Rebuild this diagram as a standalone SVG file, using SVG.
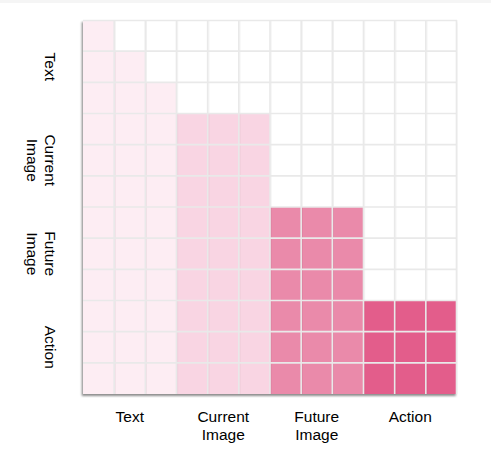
<svg xmlns="http://www.w3.org/2000/svg" width="491" height="449" viewBox="0 0 491 449">
  <defs>
    <filter id="sh" x="-10%" y="-10%" width="120%" height="120%">
      <feDropShadow dx="-1.2" dy="2" stdDeviation="1.2" flood-color="#000" flood-opacity="0.45"/>
    </filter>
  </defs>
  <style>
    .lbl { font-family: "Liberation Sans", Arial, sans-serif; font-size: 15.5px; fill: #000; }
    .t { fill: #fdedf3; }
    .c { fill: #f9d5e3; }
    .f { fill: #ea8aaa; }
    .a { fill: #e35d8b; }
    .grid line { stroke: #e9e9e9; stroke-width: 1.6; }
    .gsh line { stroke: #000; stroke-opacity: 0.05; stroke-width: 1; }
  </style>
  <rect x="0" y="0" width="491" height="449" fill="#ffffff"/>
  <rect x="0" y="0" width="491" height="3" fill="#f5f5f5"/>

  <rect x="83" y="20" width="374" height="374" fill="#ffffff" filter="url(#sh)"/>

  <g id="block-text">
    <rect class="t" x="83" y="20" width="31.17" height="31.17"/>
    <rect class="t" x="83" y="51.17" width="62.33" height="31.16"/>
    <rect class="t" x="83" y="82.33" width="93.5" height="311.67"/>
  </g>
  <g id="block-current-image">
    <rect class="c" x="176.5" y="113.5" width="93.5" height="280.5"/>
  </g>
  <g id="block-future-image">
    <rect class="f" x="270" y="207" width="93.5" height="187"/>
  </g>
  <g id="block-action">
    <rect class="a" x="363.5" y="300.5" width="93.5" height="93.5"/>
  </g>

  <g id="grid-shadow" class="gsh">
    <line x1="115.4" y1="20" x2="115.4" y2="394"/>
    <line x1="146.5" y1="20" x2="146.5" y2="394"/>
    <line x1="177.7" y1="20" x2="177.7" y2="394"/>
    <line x1="208.9" y1="20" x2="208.9" y2="394"/>
    <line x1="240" y1="20" x2="240" y2="394"/>
    <line x1="271.2" y1="20" x2="271.2" y2="394"/>
    <line x1="302.4" y1="20" x2="302.4" y2="394"/>
    <line x1="333.5" y1="20" x2="333.5" y2="394"/>
    <line x1="364.7" y1="20" x2="364.7" y2="394"/>
    <line x1="395.9" y1="20" x2="395.9" y2="394"/>
    <line x1="427" y1="20" x2="427" y2="394"/>
  </g>
  <g id="grid" class="grid">
    <line x1="114.17" y1="20" x2="114.17" y2="394"/>
    <line x1="145.33" y1="20" x2="145.33" y2="394"/>
    <line x1="176.5" y1="20" x2="176.5" y2="394"/>
    <line x1="207.67" y1="20" x2="207.67" y2="394"/>
    <line x1="238.83" y1="20" x2="238.83" y2="394"/>
    <line x1="270" y1="20" x2="270" y2="394"/>
    <line x1="301.17" y1="20" x2="301.17" y2="394"/>
    <line x1="332.33" y1="20" x2="332.33" y2="394"/>
    <line x1="363.5" y1="20" x2="363.5" y2="394"/>
    <line x1="394.67" y1="20" x2="394.67" y2="394"/>
    <line x1="425.83" y1="20" x2="425.83" y2="394"/>
    <line x1="83" y1="51.17" x2="457" y2="51.17"/>
    <line x1="83" y1="82.33" x2="457" y2="82.33"/>
    <line x1="83" y1="113.5" x2="457" y2="113.5"/>
    <line x1="83" y1="144.67" x2="457" y2="144.67"/>
    <line x1="83" y1="175.83" x2="457" y2="175.83"/>
    <line x1="83" y1="207" x2="457" y2="207"/>
    <line x1="83" y1="238.17" x2="457" y2="238.17"/>
    <line x1="83" y1="269.33" x2="457" y2="269.33"/>
    <line x1="83" y1="300.5" x2="457" y2="300.5"/>
    <line x1="83" y1="331.67" x2="457" y2="331.67"/>
    <line x1="83" y1="362.83" x2="457" y2="362.83"/>
    <line x1="83" y1="20.5" x2="457" y2="20.5"/>
    <line x1="456.5" y1="20" x2="456.5" y2="394"/>
  </g>

  <g id="row-labels" class="lbl" text-anchor="middle">
    <text transform="translate(45,66.75) rotate(90)" x="0" y="0">Text</text>
    <text transform="translate(45,160.25) rotate(90)"><tspan x="0" y="0">Current</tspan><tspan x="0" y="18">Image</tspan></text>
    <text transform="translate(45,253.75) rotate(90)"><tspan x="0" y="0">Future</tspan><tspan x="0" y="18">Image</tspan></text>
    <text transform="translate(45,347.25) rotate(90)" x="0" y="0">Action</text>
  </g>
  <g id="col-labels" class="lbl" text-anchor="middle">
    <text x="129.75" y="422">Text</text>
    <text x="223.25" y="422">Current</text>
    <text x="223.25" y="440">Image</text>
    <text x="316.75" y="422">Future</text>
    <text x="316.75" y="440">Image</text>
    <text x="410.25" y="422">Action</text>
  </g>
</svg>
